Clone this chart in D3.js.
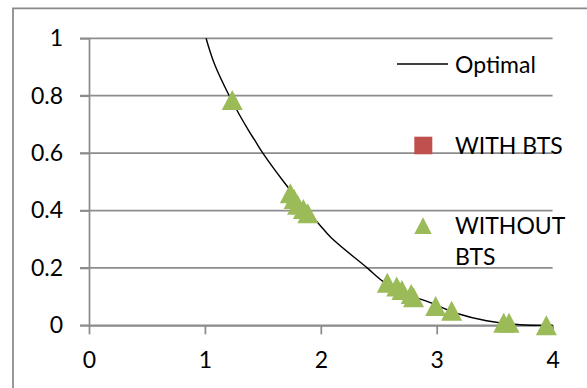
<!DOCTYPE html>
<html>
<head>
<meta charset="utf-8">
<script src="https://cdn.jsdelivr.net/npm/d3@7"></script>
<style>
  html, body { margin: 0; padding: 0; background: #fff; }
  svg { display: block; }
  text { font-family: Lato, "Liberation Sans", sans-serif; fill: #000; }
</style>
</head>
<body>
<svg id="chart" width="587" height="388"></svg>
<script>
// Optimal curve (sampled)
const optimalX = [1.01, 1.08, 1.21, 1.375, 1.43, 1.50, 1.69, 1.85, 1.98, 2.09, 2.40, 2.54, 2.70, 2.94, 3.17, 3.43, 3.72, 4.0];
const optimalY = [1.0, 0.913, 0.8, 0.68, 0.645, 0.6, 0.495, 0.415, 0.355, 0.305, 0.2, 0.152, 0.115, 0.08, 0.042, 0.016, 0.002, 0.0];

// WITHOUT BTS measurements
const withoutX = [1.236, 1.737, 1.77, 1.80, 1.85, 1.888, 2.574, 2.655, 2.70, 2.78, 2.80, 2.991, 3.129, 3.578, 3.624, 3.946];
const withoutY = [0.785, 0.46, 0.44, 0.42, 0.405, 0.39, 0.148, 0.135, 0.123, 0.109, 0.098, 0.067, 0.051, 0.009, 0.009, 0.0];

const xTicks = [0, 1, 2, 3, 4];
const yTicks = [0, 0.2, 0.4, 0.6, 0.8, 1];
const yTickLabels = ["0", "0.2", "0.4", "0.6", "0.8", "1"];

const legendItems = [
  { label: ["Optimal"], kind: "line" },
  { label: ["WITH BTS"], kind: "square" },
  { label: ["WITHOUT", "BTS"], kind: "triangle" }
];

const GRID = "#8c8c8c";
const GREEN = "#9bbb59";
const RED = "#c0504d";
const FONT = 23;

const svg = d3.select("#chart");

// chart frame (left and top edges visible)
svg.append("path")
  .attr("d", "M13,388 V8.3 H590")
  .attr("fill", "none").attr("stroke", "#898989").attr("stroke-width", 1.75);

const x = d3.scaleLinear().domain([0, 4]).range([89, 552.6]);
const y = d3.scaleLinear().domain([0, 1]).range([325.3, 38.3]);

// horizontal gridlines, extended left past the axis
svg.append("g").selectAll("line").data(yTicks).join("line")
  .attr("x1", 80).attr("x2", x(4))
  .attr("y1", d => y(d)).attr("y2", d => y(d))
  .attr("stroke", GRID).attr("stroke-width", 1.75);

// y axis
const yAxis = svg.append("g").attr("transform", `translate(${x(0)},0)`)
  .call(d3.axisLeft(y).tickValues(yTicks).tickSize(9).tickSizeOuter(0).tickPadding(17)
    .tickFormat((d, i) => yTickLabels[i]));
yAxis.select(".domain").attr("stroke", GRID).attr("stroke-width", 1.75);
yAxis.selectAll(".tick line").attr("stroke", GRID).attr("stroke-width", 1.75);
yAxis.selectAll("text").style("font-size", FONT + "px").style("font-family", "Lato, 'Liberation Sans', sans-serif").attr("fill", "#000");

// x axis
const xAxis = svg.append("g").attr("transform", `translate(0,${y(0)})`)
  .call(d3.axisBottom(x).tickValues(xTicks).tickSize(9).tickSizeOuter(0).tickPadding(17.4)
    .tickFormat(d3.format("d")));
xAxis.select(".domain").attr("stroke", GRID).attr("stroke-width", 1.75);
xAxis.selectAll(".tick line").attr("stroke", GRID).attr("stroke-width", 1.75);
xAxis.selectAll("text").style("font-size", FONT + "px").style("font-family", "Lato, 'Liberation Sans', sans-serif").attr("fill", "#000");

// optimal curve
const curvePts = optimalX.map((v, i) => [v, optimalY[i]]);
svg.append("path")
  .datum(curvePts)
  .attr("d", d3.line().x(d => x(d[0])).y(d => y(d[1])).curve(d3.curveCatmullRom.alpha(0.5)))
  .attr("fill", "none").attr("stroke", "#000").attr("stroke-width", 1.4);

// triangle marker
const tri = (w, h) => `M0,${-h / 2}L${w / 2},${h / 2}L${-w / 2},${h / 2}Z`;

const pts = withoutX.map((v, i) => [v, withoutY[i]]);
svg.append("g").selectAll("path").data(pts).join("path")
  .attr("d", tri(21, 20))
  .attr("transform", d => `translate(${x(d[0])},${y(d[1])})`)
  .attr("fill", GREEN);

// legend
const legend = svg.append("g");
const legendY = [64, 145.5, 225.7];
legendItems.forEach((item, i) => {
  const cy = legendY[i];
  const g = legend.append("g");
  if (item.kind === "line") {
    g.append("line").attr("x1", 397).attr("x2", 448).attr("y1", cy).attr("y2", cy)
      .attr("stroke", "#000").attr("stroke-width", 1.4);
  } else if (item.kind === "square") {
    g.append("rect").attr("x", 414.3).attr("y", cy - 8.8).attr("width", 18).attr("height", 17.6)
      .attr("fill", RED);
  } else {
    g.append("path").attr("d", tri(17.4, 16.7)).attr("transform", `translate(423,${cy})`)
      .attr("fill", GREEN);
  }
  const t = g.append("text").attr("x", 455).attr("y", cy + 8.6).style("font-size", FONT + "px");
  item.label.forEach((s, j) => {
    t.append("tspan").attr("x", 455).attr("dy", j === 0 ? 0 : 31).text(s);
  });
});
</script>
</body>
</html>
